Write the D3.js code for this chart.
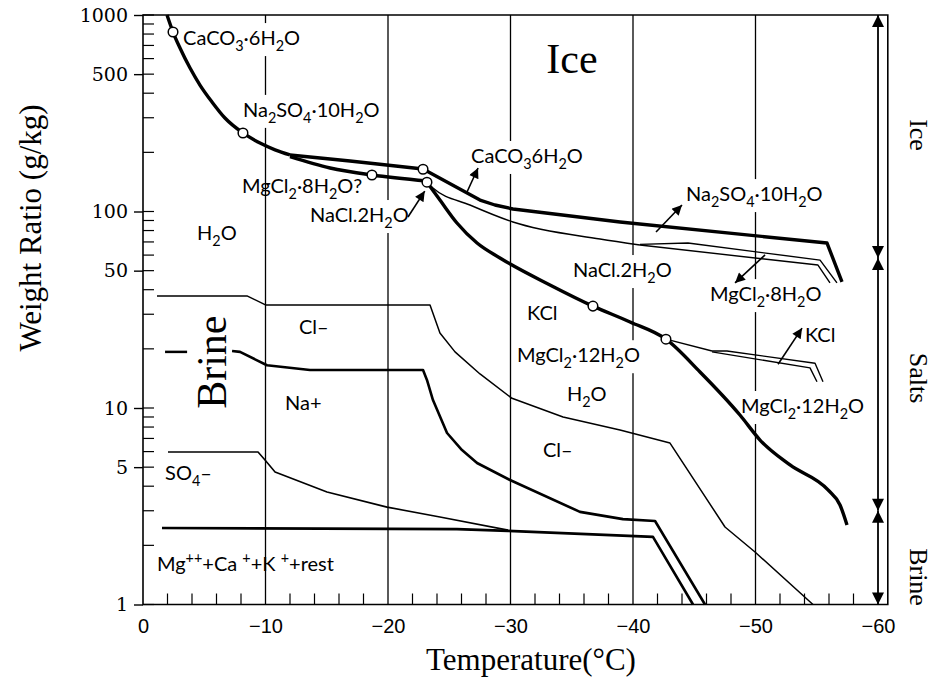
<!DOCTYPE html>
<html>
<head>
<meta charset="utf-8">
<script src="https://cdn.jsdelivr.net/npm/d3@7"></script>
<style>
  body { margin: 0; background: #fff; }
  .lab { font-family: Lato, "Open Sans", sans-serif; font-size: 20px; }
  .serif { font-family: "Liberation Serif", "DejaVu Serif", serif; }
</style>
</head>
<body>
<svg id="chart" width="939" height="686"></svg>
<script>
// all points are [temperature degC, weight ratio g/kg]
const h2oCurve = [[-1.96,1000],[-2.45,819],[-3.02,679],[-3.84,537],[-4.65,440],[-5.63,361],[-6.69,299],[-8.16,251],[-9.55,223],[-10.78,206],[-12.0,194]];
const iceCurve = [[-12.0,194],[-16.9,180.6],[-22.86,164.6],[-27.51,114.4],[-28.73,107.9],[-30.2,103],[-38.94,88.4],[-55.84,69.1],[-57.06,43.8]];
const saltStart = [[-12.0,190],[-15.27,166.5],[-18.69,153.4],[-23.18,143]];
const brineCurve = [[-23.18,141],[-24.24,114.4],[-25.63,87.4],[-27.27,69.1],[-29.14,58.0],[-33.22,42.3],[-36.73,33.0],[-39.76,27.4],[-42.69,22.4],[-45.47,15.25],[-48.73,9.21],[-50.37,6.87],[-52.82,5.13],[-55.92,3.83],[-56.9,3.21],[-57.47,2.54]];
const mgcl8Line = [[-23.18,141],[-23.67,131.7],[-26.69,107.9],[-30.2,88.4],[-37.31,72.4],[-40.57,67.5]];
const mgcl8Upper = [[-40.57,68],[-44.49,69.1],[-55.27,56.6],[-56.65,43.3]];
const mgcl8Lower = [[-40.57,67.5],[-55.1,53.4],[-56.08,43.3]];
const kclLine = [[-42.69,22.4],[-46.45,19.5]];
const kclUpper = [[-46.45,19.5],[-47.67,19.5],[-54.86,16.9],[-55.51,13.6]];
const kclLower = [[-46.45,19.3],[-54.45,16.0],[-55.02,13.6]];
const clLine = [[-1.14,37.2],[-8.49,37.2],[-10.04,33.4],[-23.43,33.4],[-24.24,24.1],[-25.47,19.3],[-27.51,14.9],[-30.12,11.2],[-34.29,9.0],[-38.94,7.73],[-43.02,6.63],[-47.51,2.48],[-49.96,1.85],[-54.69,1.0]];
const naLine = [[-7.27,19.5],[-7.92,19.3],[-10.12,16.5],[-13.63,15.6],[-22.86,15.6],[-23.18,13.9],[-23.67,10.98],[-24.82,7.46],[-26.04,6.11],[-27.27,5.25],[-29.96,4.30],[-35.67,2.96],[-39.18,2.72],[-41.8,2.66],[-45.88,1.0]];
const so4Line = [[-2.04,5.97],[-9.39,5.97],[-9.96,5.44],[-10.78,4.72],[-15.02,3.74],[-19.92,3.13],[-24.24,2.79],[-29.8,2.39]];
const mgLine = [[-1.55,2.45],[-25.63,2.42],[-29.8,2.37],[-41.63,2.21],[-44.9,1.0]];

const markers = [[-2.45,819],[-8.16,251],[-18.69,153.4],[-22.86,164],[-23.18,141],[-36.73,33.0],[-42.69,22.4]];

const pointers = [
  [[-21.63,93.8],[-23.0,127]],
  [[-26.45,125.7],[-27.35,166.5]],
  [[-41.88,78.6],[-44.0,107.9]],
  [[-50.78,60.1],[-48.33,43.3]],
  [[-51.84,16.7],[-53.8,25.5]]
];

const labels = [
  {text: "CaCO{3}·6H{2}O", t: -3.27, v: 703, bg: true},
  {text: "Na{2}SO{4}·10H{2}O", t: -8.16, v: 303, bg: true},
  {text: "MgCl{2}·8H{2}O?", t: -8.08, v: 124},
  {text: "NaCl.2H{2}O", t: -13.63, v: 88.4, bg: true},
  {text: "H{2}O", t: -4.41, v: 71.6},
  {text: "CaCO{3}6H{2}O", t: -26.78, v: 176.6, bg: true},
  {text: "Na{2}SO{4}·10H{2}O", t: -44.33, v: 113, bg: true},
  {text: "NaCl.2H{2}O", t: -35.1, v: 46.4, bg: true},
  {text: "MgCl{2}·8H{2}O", t: -46.29, v: 35.0, bg: true},
  {text: "KCl", t: -31.35, v: 28.0},
  {text: "KCl", t: -54.04, v: 21.7},
  {text: "MgCl{2}·12H{2}O", t: -30.53, v: 17.1, bg: true},
  {text: "H{2}O", t: -34.61, v: 10.9},
  {text: "MgCl{2}·12H{2}O", t: -48.82, v: 9.43, bg: true},
  {text: "Cl–", t: -32.65, v: 5.63},
  {text: "Cl–", t: -12.73, v: 23.8},
  {text: "Na+", t: -11.59, v: 9.77},
  {text: "SO{4}–", t: -1.8, v: 4.30},
  {text: "Mg[++]+Ca [+]+K [+]+rest", t: -1.14, v: 1.48}
];

const yTicks = [1, 5, 10, 50, 100, 500, 1000];
const xTicks = [0, -10, -20, -30, -40, -50, -60];
const phaseBounds = [1000, 58, 3, 1];
const phaseNames = [{name: "Ice", v: 245}, {name: "Salts", v: 14.2}, {name: "Brine", v: 1.38}];

const svg = d3.select("#chart");
const x = d3.scaleLinear().domain([0, -60]).range([143, 878]);
const y = d3.scaleLog().domain([1, 1000]).range([604.5, 15]);
const xEnd = -60.8;

const defs = svg.append("defs");
defs.append("marker").attr("id", "head")
  .attr("viewBox", "0 0 10 10").attr("refX", 10).attr("refY", 5)
  .attr("markerWidth", 13).attr("markerHeight", 10).attr("markerUnits", "userSpaceOnUse")
  .attr("orient", "auto-start-reverse")
  .append("path").attr("d", "M0,0L10,5L0,10Z").attr("fill", "#000");
defs.append("marker").attr("id", "bighead")
  .attr("viewBox", "0 0 10 10").attr("refX", 10).attr("refY", 5)
  .attr("markerWidth", 14).attr("markerHeight", 12).attr("markerUnits", "userSpaceOnUse")
  .attr("orient", "auto-start-reverse")
  .append("path").attr("d", "M0,0L10,5L0,10Z").attr("fill", "#000");

// grid lines
svg.append("g").selectAll("line").data([-10, -20, -30, -40, -50]).join("line")
  .attr("x1", d => x(d)).attr("x2", d => x(d))
  .attr("y1", y(1000)).attr("y2", y(1))
  .attr("stroke", "#000").attr("stroke-width", 1.3);

const bgLayer = svg.append("g");

// curves
const smooth = d3.line().x(d => x(d[0])).y(d => y(d[1])).curve(d3.curveMonotoneX);
const straight = d3.line().x(d => x(d[0])).y(d => y(d[1]));
const curves = [
  [h2oCurve, smooth, 3.4], [iceCurve, straight, 3.4], [saltStart, smooth, 3.4], [brineCurve, smooth, 3.4],
  [mgcl8Line, smooth, 1.4], [mgcl8Upper, straight, 1.4], [mgcl8Lower, straight, 1.4],
  [kclLine, straight, 1.4], [kclUpper, straight, 1.4], [kclLower, straight, 1.4],
  [clLine, straight, 1.5], [naLine, straight, 2.6], [so4Line, straight, 1.6], [mgLine, straight, 2.6]
];
svg.append("g").selectAll("path").data(curves).join("path")
  .attr("d", d => d[1](d[0]))
  .attr("fill", "none").attr("stroke", "#000")
  .attr("stroke-width", d => d[2]).attr("stroke-linejoin", "round");

svg.append("g").selectAll("circle").data(markers).join("circle")
  .attr("cx", d => x(d[0])).attr("cy", d => y(d[1])).attr("r", 4.8)
  .attr("fill", "#fff").attr("stroke", "#000").attr("stroke-width", 1.5);

// brine dash
svg.append("line").attr("x1", x(-1.8)).attr("x2", x(-3.6))
  .attr("y1", y(19.3)).attr("y2", y(19.3)).attr("stroke", "#000").attr("stroke-width", 2.5);

// labels with sub/superscripts
function rich(sel, str) {
  const re = /\{([^}]*)\}|\[([^\]]*)\]|([^{\[]+)/g;
  let m, shift = 0;
  while ((m = re.exec(str))) {
    const target = m[1] != null ? 6 : m[2] != null ? -8 : 0;
    const ts = sel.append("tspan").attr("dy", target - shift).text(m[1] ?? m[2] ?? m[3]);
    if (target !== 0) ts.attr("font-size", "72%");
    shift = target;
  }
}
const labG = svg.append("g");
labels.forEach(l => {
  const t = labG.append("text").attr("class", "lab").attr("x", x(l.t)).attr("y", y(l.v));
  rich(t, l.text);
  if (l.bg) {
    const b = t.node().getBBox();
    bgLayer.append("rect").attr("x", b.x - 2).attr("y", b.y - 2)
      .attr("width", b.width + 4).attr("height", b.height + 4).attr("fill", "#fff");
  }
});

svg.append("g").selectAll("line").data(pointers).join("line")
  .attr("x1", d => x(d[0][0])).attr("y1", d => y(d[0][1]))
  .attr("x2", d => x(d[1][0])).attr("y2", d => y(d[1][1]))
  .attr("stroke", "#000").attr("stroke-width", 1.6).attr("marker-end", "url(#head)");

svg.append("text").attr("class", "serif").attr("x", x(-35.02)).attr("y", y(507))
  .attr("text-anchor", "middle").attr("font-size", 42).text("Ice");
svg.append("text").attr("class", "serif").attr("font-size", 42).attr("text-anchor", "middle")
  .attr("transform", `translate(${x(-6.78)},${y(17.1)}) rotate(-90)`).text("Brine");

// frame
svg.append("path").attr("d", `M${x(0)},${y(1000)}H${x(xEnd)}V${y(1)}H${x(0)}Z`)
  .attr("fill", "none").attr("stroke", "#000").attr("stroke-width", 1.6);

// phase arrows on the right
const pairs = d3.pairs(phaseBounds);
svg.append("g").selectAll("line").data(pairs).join("line")
  .attr("x1", x(-60)).attr("x2", x(-60))
  .attr("y1", d => y(d[0])).attr("y2", d => y(d[1]))
  .attr("stroke", "#000").attr("stroke-width", 1.8)
  .attr("marker-start", "url(#bighead)").attr("marker-end", "url(#bighead)");
svg.append("g").selectAll("text").data(phaseNames).join("text")
  .attr("class", "serif").attr("font-size", 26).attr("text-anchor", "middle").attr("dy", "0.33em")
  .attr("transform", d => `translate(${x(-63.3)},${y(d.v)}) rotate(90)`).text(d => d.name);

// y axis
const minor = [];
[1, 10, 100].forEach(dec => { for (let k = 1; k < 10; k++) minor.push(dec * k); });
minor.push(1000);
svg.append("g").selectAll("line").data(minor).join("line")
  .attr("x1", x(0)).attr("x2", x(0) + 11).attr("y1", d => y(d)).attr("y2", d => y(d))
  .attr("stroke", "#000").attr("stroke-width", 1.2);
const yAxis = svg.append("g").attr("transform", `translate(${x(0)},0)`)
  .call(d3.axisLeft(y).tickValues(yTicks).tickFormat(d3.format("d")).tickSize(9).tickSizeOuter(0).tickPadding(6));
yAxis.select(".domain").remove();
yAxis.selectAll("line").attr("stroke-width", 1.4);
yAxis.selectAll("text").attr("font-family", "DejaVu Serif, serif").attr("font-size", 19);

// x axis
const xMinor = d3.range(-2, -61, -2).filter(d => d % 10 !== 0);
svg.append("g").selectAll("line").data(xMinor).join("line")
  .attr("x1", d => x(d)).attr("x2", d => x(d)).attr("y1", y(1)).attr("y2", y(1) - 11)
  .attr("stroke", "#000").attr("stroke-width", 1.2);
const xAxis = svg.append("g").attr("transform", `translate(0,${y(1)})`)
  .call(d3.axisBottom(x).tickValues(xTicks).tickFormat(d3.format("d")).tickSize(0).tickPadding(14));
xAxis.select(".domain").remove();
xAxis.selectAll("text").attr("font-family", "Liberation Sans, sans-serif").attr("font-size", 20);

svg.append("text").attr("class", "serif").attr("font-size", 31).attr("text-anchor", "middle")
  .attr("x", 531).attr("y", 670).text("Temperature(°C)");
svg.append("text").attr("class", "serif").attr("font-size", 31).attr("text-anchor", "middle")
  .attr("transform", "translate(41,228) rotate(-90)").text("Weight Ratio (g/kg)");
</script>
</body>
</html>
